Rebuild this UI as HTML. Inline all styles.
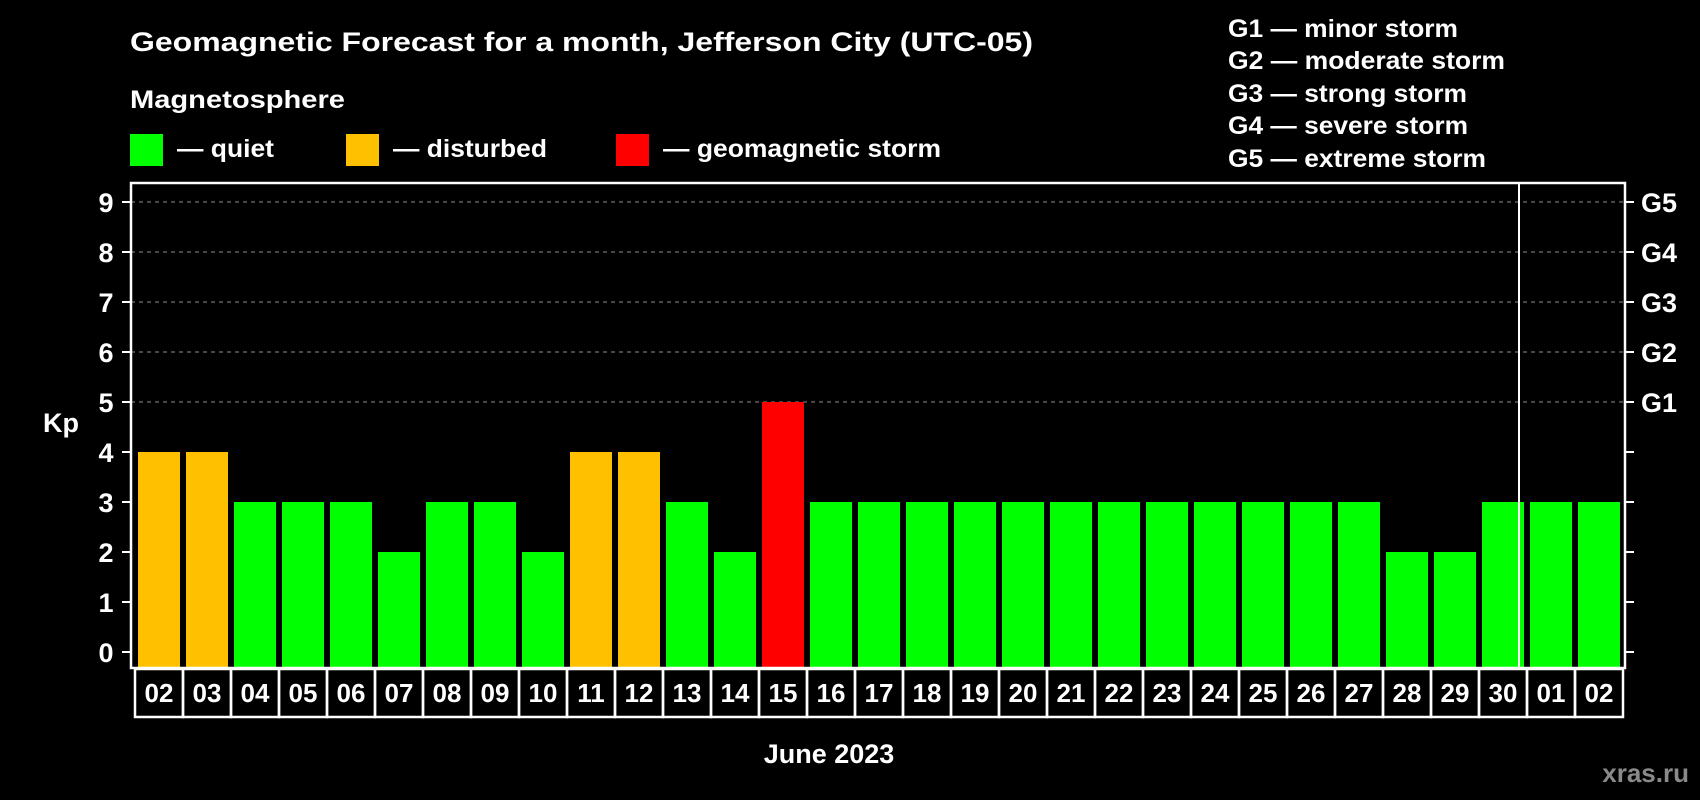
<!DOCTYPE html>
<html><head><meta charset="utf-8"><style>
html,body{margin:0;padding:0;background:#000;}
svg{display:block;font-family:"Liberation Sans",sans-serif;font-weight:bold;}
</style></head><body>
<svg id="chart" width="1700" height="800" viewBox="0 0 1700 800">
<rect x="0" y="0" width="1700" height="800" fill="#000"/>
<text x="130" y="51" fill="#fff" font-size="27" textLength="903" lengthAdjust="spacingAndGlyphs">Geomagnetic Forecast for a month, Jefferson City (UTC-05)</text>
<text x="130" y="108" fill="#fff" font-size="25" textLength="215" lengthAdjust="spacingAndGlyphs">Magnetosphere</text>
<g>
<rect x="130" y="134" width="33" height="32" fill="#00ff00"/>
<text x="177" y="157" fill="#fff" font-size="25" textLength="97" lengthAdjust="spacingAndGlyphs">— quiet</text></g>
<g>
<rect x="346" y="134" width="33" height="32" fill="#ffc000"/>
<text x="393" y="157" fill="#fff" font-size="25" textLength="154" lengthAdjust="spacingAndGlyphs">— disturbed</text></g>
<g>
<rect x="616" y="134" width="33" height="32" fill="#ff0000"/>
<text x="663" y="157" fill="#fff" font-size="25" textLength="278" lengthAdjust="spacingAndGlyphs">— geomagnetic storm</text></g>
<g fill="#fff" font-size="25">
<text x="1228" y="37" textLength="230" lengthAdjust="spacingAndGlyphs">G1 — minor storm</text>
<text x="1228" y="69" textLength="277" lengthAdjust="spacingAndGlyphs">G2 — moderate storm</text>
<text x="1228" y="102" textLength="239" lengthAdjust="spacingAndGlyphs">G3 — strong storm</text>
<text x="1228" y="134" textLength="240" lengthAdjust="spacingAndGlyphs">G4 — severe storm</text>
<text x="1228" y="167" textLength="258" lengthAdjust="spacingAndGlyphs">G5 — extreme storm</text>
</g>
<text x="43" y="432" fill="#fff" font-size="27">Kp</text>
<text x="829" y="763" fill="#fff" font-size="27" text-anchor="middle">June 2023</text>
<text x="1689" y="782" fill="#8a8a8a" font-size="26" text-anchor="end">xras.ru</text>
<g id="grid"></g><g id="bars"></g><g id="axes"></g>
</svg>
<script>
const dayLabels=["02","03","04","05","06","07","08","09","10","11","12","13","14","15","16","17","18","19","20","21","22","23","24","25","26","27","28","29","30","01","02"];
const kpValues=[4,4,3,3,3,2,3,3,2,4,4,3,2,5,3,3,3,3,3,3,3,3,3,3,3,3,2,2,3,3,3];
const yTicks=[0,1,2,3,4,5,6,7,8,9];
const gLabels=["","","","","","G1","G2","G3","G4","G5"];
const monthBreakIndex=29;
const NS="http://www.w3.org/2000/svg";
const plotL=131,plotR=1625,plotT=183,plotB=668,slotL=135,slotW=48;
function yScale(v){return 652-v*50;}
function xSlot(i){return slotL+i*slotW;}
function colorFor(v){return v>=5?"#ff0000":(v>=4?"#ffc000":"#00ff00");}
function mk(tag,attrs,parent){const e=document.createElementNS(NS,tag);for(const k in attrs)e.setAttribute(k,attrs[k]);parent.appendChild(e);return e;}
const grid=document.getElementById('grid'),bars=document.getElementById('bars'),axes=document.getElementById('axes');
yTicks.forEach(function(t,i){
  const y=yScale(t);
  if(t>=5){const g=mk('line',{x1:plotL,x2:plotR,y1:y,y2:y,stroke:'#8c8c8c','stroke-width':1,'stroke-dasharray':'4,4'},grid);
    
    }
  const tl=mk('line',{x1:plotL-9,x2:plotL,y1:y,y2:y,stroke:'#fff','stroke-width':2},axes);
  
  
  const tr=mk('line',{x1:plotR,x2:plotR+9,y1:y,y2:y,stroke:'#fff','stroke-width':2},axes);
  
  
  const lab=mk('text',{x:106,y:y+10,fill:'#fff','font-size':27,'text-anchor':'middle'},axes);lab.textContent=t;
  
  
  if(gLabels[i]){const gl=mk('text',{x:1641,y:y+10,fill:'#fff','font-size':27},axes);gl.textContent=gLabels[i];
    
    }
});
kpValues.forEach(function(v,i){
  const x=xSlot(i)+3;
  const r=mk('rect',{x:x,y:yScale(v),width:42,height:plotB-yScale(v),fill:colorFor(v)},bars);
  
  
  const b=mk('rect',{x:xSlot(i),y:plotB+1,width:slotW,height:48,fill:'none',stroke:'#fff','stroke-width':2.5},axes);
  
  
  const t=mk('text',{x:xSlot(i)+slotW/2,y:plotB+34,fill:'#fff','font-size':26,'text-anchor':'middle'},axes);t.textContent=dayLabels[i];
  
  
});
const frame=mk('rect',{x:plotL,y:plotT,width:plotR-plotL,height:plotB-plotT,fill:'none',stroke:'#fff','stroke-width':2.5},axes);


const dx=xSlot(monthBreakIndex)-8;
const div=mk('line',{x1:dx,x2:dx,y1:plotT,y2:plotB,stroke:'#fff','stroke-width':2},axes);


</script>
</body></html>
